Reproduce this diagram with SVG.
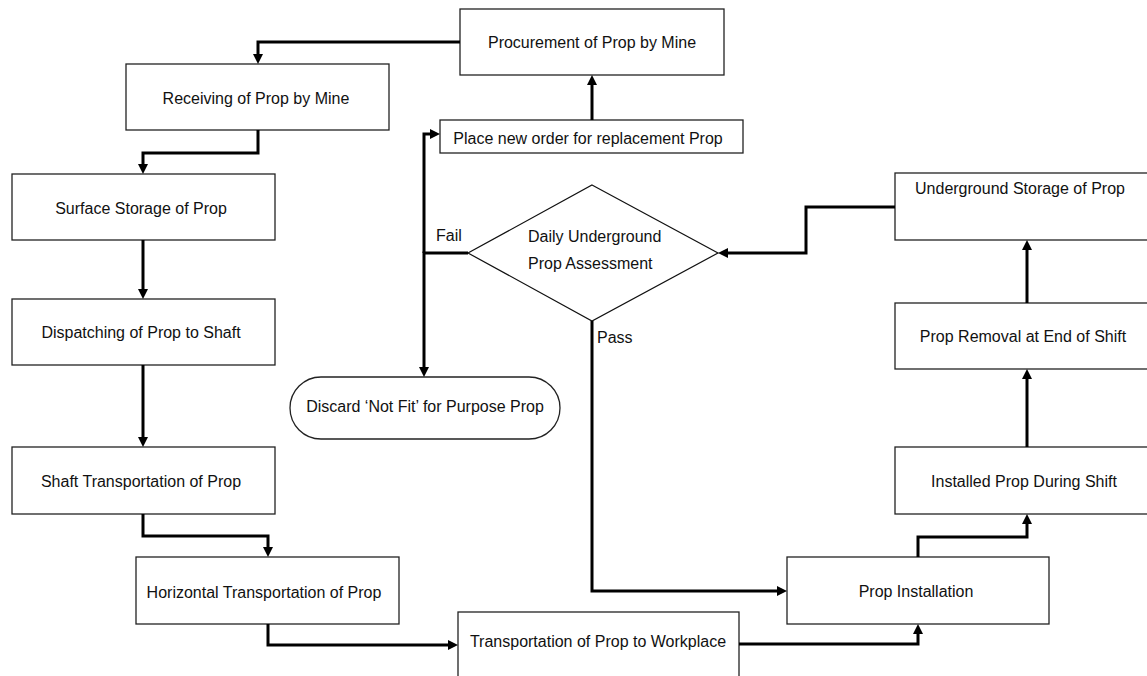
<svg xmlns="http://www.w3.org/2000/svg" width="1147" height="676" viewBox="0 0 1147 676">
<style>
.box{fill:#fff;stroke:#222;stroke-width:1.3}
.dia{fill:#fff;stroke:#111;stroke-width:1.2}
.t{font-family:"Liberation Sans",Arial,sans-serif;font-size:16px;fill:#111}
.c{text-anchor:middle}
.conn path{fill:none;stroke:#000;stroke-width:3;marker-end:url(#ah)}
</style>
<defs>
<marker id="ah" viewBox="0 0 10 10" markerWidth="10" markerHeight="10" refX="6" refY="5" orient="auto" markerUnits="userSpaceOnUse">
<path d="M0,0 L10,5 L0,10 z" fill="#000"/>
</marker>
</defs>
<rect width="1147" height="676" fill="#fff"/>
<g id="procurement"><rect class="box" x="460" y="9" width="264" height="66"/><text class="t c" x="592" y="48">Procurement of Prop by Mine</text></g>
<g id="receiving"><rect class="box" x="126" y="64" width="263" height="66"/><text class="t c" x="256" y="104">Receiving of Prop by Mine</text></g>
<g id="surface"><rect class="box" x="12" y="174" width="263" height="66"/><text class="t c" x="141" y="214">Surface Storage of Prop</text></g>
<g id="dispatching"><rect class="box" x="12" y="299" width="263" height="66"/><text class="t c" x="141" y="338">Dispatching of Prop to Shaft</text></g>
<g id="shaft"><rect class="box" x="12" y="447" width="263" height="67"/><text class="t c" x="141" y="487">Shaft Transportation of Prop</text></g>
<g id="horizontal"><rect class="box" x="136" y="557" width="263" height="67"/><text class="t c" x="264" y="598">Horizontal Transportation of Prop</text></g>
<g id="transport"><rect class="box" x="458" y="612" width="281" height="70"/><text class="t c" x="598" y="647">Transportation of Prop to Workplace</text></g>
<g id="installation"><rect class="box" x="787" y="557" width="262" height="67"/><text class="t c" x="916" y="597">Prop Installation</text></g>
<g id="installed"><rect class="box" x="895" y="447" width="262" height="67"/><text class="t c" x="1024" y="487">Installed Prop During Shift</text></g>
<g id="removal"><rect class="box" x="895" y="303" width="262" height="66"/><text class="t c" x="1023" y="342">Prop Removal at End of Shift</text></g>
<g id="underground"><rect class="box" x="895" y="173" width="262" height="67"/><text class="t c" x="1020" y="194">Underground Storage of Prop</text></g>
<g id="placeorder"><rect class="box" x="440" y="120" width="303" height="33"/><text class="t c" x="588" y="144">Place new order for replacement Prop</text></g>
<g id="assessment"><path class="dia" d="M592,185 L718,253 L592,321 L468,253 Z"/><text class="t" x="528" y="242">Daily Underground</text><text class="t" x="528" y="269">Prop Assessment</text></g>
<g id="discard"><rect class="box" x="290" y="377" width="270" height="62" rx="31" ry="31"/><text class="t c" x="425" y="412">Discard ‘Not Fit’ for Purpose Prop</text></g>
<g id="connectors" class="conn">
<path d="M460,42 H258 V60"/>
<path d="M258,130 V153 H143 V170"/>
<path d="M143,240 V295"/>
<path d="M143,365 V443"/>
<path d="M143,514 V536 H268 V553"/>
<path d="M268,624 V645 H454"/>
<path d="M739,644 H918 V628"/>
<path d="M918,557 V537 H1027 V518"/>
<path d="M1027,447 V373"/>
<path d="M1027,303 V244"/>
<path d="M895,207 H806 V253 H722"/>
<path d="M468,253 H424 V373"/>
<path d="M424,253 V134 H436"/>
<path d="M592,120 V79"/>
<path d="M592,321 V591 H783"/>
</g>
<g id="labels">
<text class="t" x="436" y="241">Fail</text>
<text class="t" x="597" y="343">Pass</text>
</g>
</svg>
